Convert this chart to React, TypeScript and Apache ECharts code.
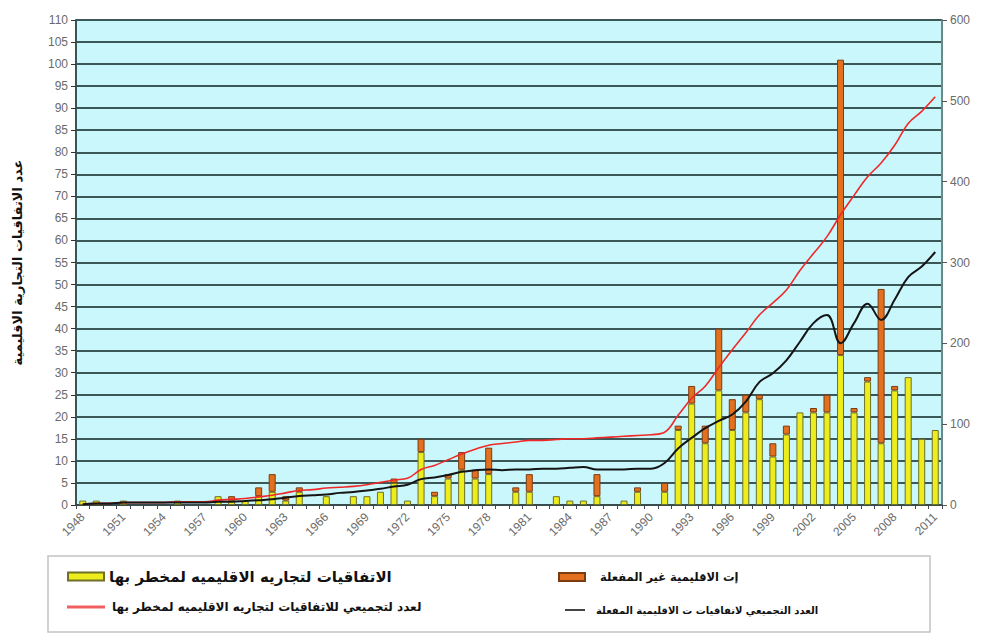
import React, { useEffect, useRef } from "react";
import * as echarts from "echarts";

const years = [
  "1948","1949","1950","1951","1952","1953","1954","1955","1956","1957",
  "1958","1959","1960","1961","1962","1963","1964","1965","1966","1967",
  "1968","1969","1970","1971","1972","1973","1974","1975","1976","1977",
  "1978","1979","1980","1981","1982","1983","1984","1985","1986","1987",
  "1988","1989","1990","1991","1992","1993","1994","1995","1996","1997",
  "1998","1999","2000","2001","2002","2003","2004","2005","2006","2007",
  "2008","2009","2010","2011",
];

// notified RTAs per year (left axis)
const notified = [
  1, 1, 0, 1, 0, 0, 0, 1, 0, 0,
  2, 1, 1, 2, 3, 1, 3, 0, 2, 0,
  2, 2, 3, 5, 1, 12, 2, 6, 8, 6,
  7, 0, 3, 3, 0, 2, 1, 1, 2, 0,
  1, 3, 0, 3, 17, 23, 14, 26, 17, 21,
  24, 11, 16, 21, 21, 21, 34, 21, 28, 14,
  26, 29, 15, 17,
];

// inactive RTAs per year (left axis, stacked on top)
const inactive = [
  0, 0, 0, 0, 0, 0, 0, 0, 0, 0,
  0, 1, 0, 2, 4, 1, 1, 0, 0, 0,
  0, 0, 0, 1, 0, 3, 1, 1, 4, 2,
  6, 0, 1, 4, 0, 0, 0, 0, 5, 0,
  0, 1, 0, 2, 1, 4, 4, 14, 7, 4,
  1, 3, 2, 0, 1, 4, 67, 1, 1, 35,
  1, 0, 0, 0,
];

// cumulative notified RTAs (right axis)
const cumNotified = [
  1, 2, 2, 3, 3, 3, 3, 4, 4, 4,
  6, 7, 8, 10, 12, 15, 18, 19, 21, 22,
  23, 25, 28, 31, 33, 44, 49, 56, 63, 69,
  74, 76, 78, 80, 80, 81, 82, 82, 83, 84,
  85, 86, 87, 90, 111, 132, 147, 170, 192, 213,
  235, 250, 266, 290, 311, 332, 359, 383, 406, 423,
  445, 472, 487, 505,
];

// cumulative RTAs in force (right axis)
const cumInForce = [
  1, 2, 2, 3, 3, 3, 3, 3, 3, 3,
  4, 4, 5, 6, 7, 9, 11, 12, 13, 15,
  16, 18, 20, 23, 25, 32, 34, 37, 41, 43,
  44, 43, 44, 44, 45, 45, 46, 47, 44, 44,
  44, 45, 45, 52, 70, 83, 95, 104, 112, 128,
  152, 163, 179, 202, 225, 235, 200, 225, 249, 229,
  254, 282, 295, 313,
];

const leftTicks = { min: 0, max: 110, interval: 5 };
const rightTicks = { min: 0, max: 600, interval: 100 };

const nameYellow = "الاتفاقيات لتجاريه الاقليميه لمخطر بها";
const nameOrange = "إت الاقليمية غير المفعلة";
const nameRed = "لعدد لتجميعي للاتفاقيات لتجاريه الاقليميه لمخطر بها";
const nameBlack = "العدد التجميعي لاتفاقيات ت الاقليمية المفعلة";
const yAxisTitle = "عدد الاتفاقيات التجارية الاقليمية";

const arabicFont = "DejaVu Sans";
const latinFont = "Liberation Sans";

export default function App() {
  const ref = useRef<HTMLDivElement>(null);
  useEffect(() => {
    if (!ref.current) return;
    const chart = echarts.init(ref.current, undefined, { renderer: "svg" });
    const nz = (a: number[]) => a.map((v) => (v === 0 ? null : v));
    const legendText = (size: number, pad: number) => ({
      color: "#111",
      fontFamily: arabicFont,
      fontWeight: "bold" as const,
      fontSize: size,
      padding: [0, 0, 0, pad],
    });
    chart.setOption({
      animation: false,
      backgroundColor: "#ffffff",
      grid: {
        left: 76,
        right: 41,
        top: 20,
        bottom: 130,
        show: true,
        backgroundColor: "#CAF7FB",
        borderWidth: 0,
      },
      legend: [
        {
          data: [{ name: nameYellow, icon: "rect" }],
          left: 62,
          top: 564,
          itemWidth: 36,
          itemHeight: 8,
          textStyle: legendText(15, 0),
        },
        {
          data: [{ name: nameRed, icon: "rect", itemStyle: { color: "#F06060" } }],
          left: 62,
          top: 596,
          itemWidth: 38,
          itemHeight: 3,
          textStyle: legendText(12, 2),
        },
        {
          data: [{ name: nameOrange, icon: "rect" }],
          left: 553,
          top: 566,
          itemWidth: 26,
          itemHeight: 8,
          textStyle: legendText(11.5, 10),
        },
        {
          data: [{ name: nameBlack, icon: "rect", itemStyle: { color: "#444" } }],
          left: 560,
          top: 600,
          itemWidth: 20,
          itemHeight: 2,
          textStyle: legendText(10, 6),
        },
      ],
      graphic: [
        {
          type: "rect",
          shape: { x: 48, y: 556, width: 882, height: 76 },
          style: { fill: "none", stroke: "#c4c4c4", lineWidth: 1.5 },
          silent: true,
        },
      ],
      xAxis: {
        type: "category",
        data: years,
        boundaryGap: true,
        axisLine: { lineStyle: { color: "#3a4a4a", width: 1.5 } },
        axisTick: { show: true, interval: 0, length: 4, lineStyle: { color: "#445" } },
        axisLabel: {
          interval: 2,
          rotate: 45,
          color: "#6a6a6a",
          fontFamily: latinFont,
          fontSize: 12,
          margin: 10,
        },
      },
      yAxis: [
        {
          type: "value",
          ...leftTicks,
          name: yAxisTitle,
          nameLocation: "middle",
          nameGap: 52,
          nameRotate: 90,
          nameTextStyle: {
            fontFamily: arabicFont,
            fontWeight: "bold",
            fontSize: 13,
            color: "#111",
          },
          axisLine: { show: true, lineStyle: { color: "#3a5555", width: 2 } },
          axisTick: { show: true, length: 5, lineStyle: { color: "#333" } },
          axisLabel: { color: "#6a6a6a", fontFamily: latinFont, fontSize: 12, margin: 8 },
          splitLine: { show: true, lineStyle: { color: "#3B5757", width: 2 } },
        },
        {
          type: "value",
          ...rightTicks,
          position: "right",
          axisLine: { show: true, lineStyle: { color: "#6a8a8a", width: 2 } },
          axisTick: { show: true, length: 5, lineStyle: { color: "#555" } },
          axisLabel: { color: "#6a6a6a", fontFamily: latinFont, fontSize: 12, margin: 8 },
          splitLine: { show: false },
        },
      ],
      series: [
        {
          name: nameYellow,
          type: "bar",
          stack: "rta",
          barWidth: 7,
          data: nz(notified),
          itemStyle: { color: "#EDED1E", borderColor: "#6E7026", borderWidth: 1 },
        },
        {
          name: nameOrange,
          type: "bar",
          stack: "rta",
          barWidth: 7,
          data: nz(inactive),
          itemStyle: { color: "#E2701E", borderColor: "#7C3C12", borderWidth: 1 },
        },
        {
          name: nameRed,
          type: "line",
          yAxisIndex: 1,
          data: cumNotified,
          smooth: 0.4,
          symbol: "none",
          lineStyle: { color: "#F02828", width: 1.6 },
          itemStyle: { color: "#F02828" },
          z: 5,
        },
        {
          name: nameBlack,
          type: "line",
          yAxisIndex: 1,
          data: cumInForce,
          smooth: 0.4,
          symbol: "none",
          lineStyle: { color: "#151515", width: 2 },
          itemStyle: { color: "#151515" },
          z: 5,
        },
      ],
    });
    return () => chart.dispose();
  }, []);
  return (
    <div
      ref={ref}
      style={{ position: "fixed", left: 0, top: 0, width: 983, height: 635 }}
    />
  );
}
